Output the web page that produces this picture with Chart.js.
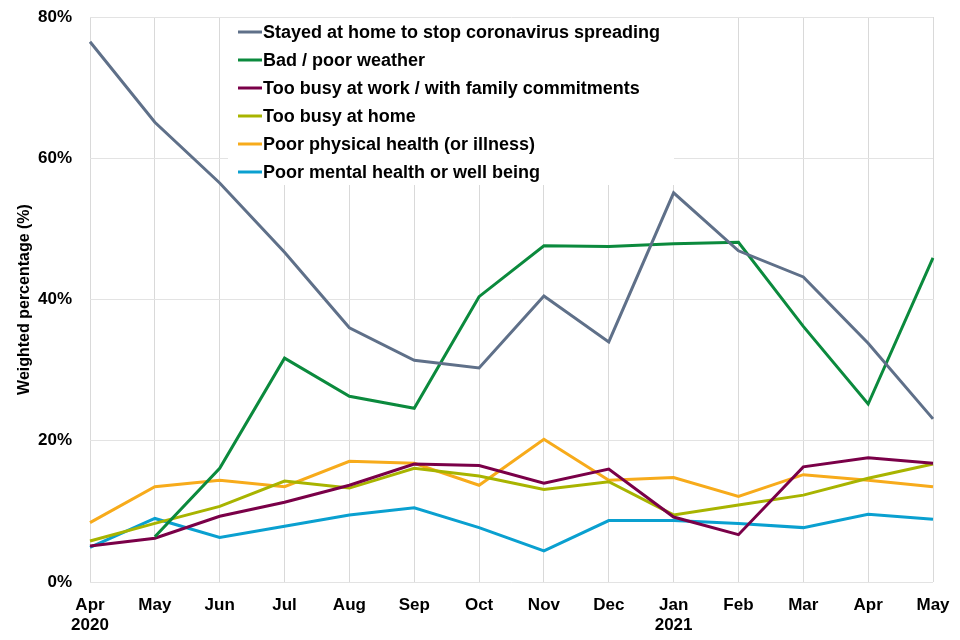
<!DOCTYPE html>
<html>
<head>
<meta charset="utf-8">
<script src="https://cdn.jsdelivr.net/npm/chart.js@4"></script>
<style>
  html, body { margin: 0; padding: 0; background: #fff; }
  #wrap { width: 960px; height: 640px; }
</style>
</head>
<body>
<div id="wrap"><canvas id="chart" width="960" height="640"></canvas></div>
<script>
/* ── Data ─────────────────────────────────────────── */
const months = [
  ['Apr', '2020'], 'May', 'Jun', 'Jul', 'Aug', 'Sep', 'Oct', 'Nov', 'Dec',
  ['Jan', '2021'], 'Feb', 'Mar', 'Apr', 'May'
];
const yTicks = [0, 20, 40, 60, 80];

const stayedHome   = [76.5, 65.1, 56.5, 46.7, 36.0, 31.4, 30.3, 40.5, 34.0, 55.1, 46.9, 43.2, 33.8, 23.1];
const badWeather   = [null, 6.4, 16.1, 31.7, 26.3, 24.6, 40.4, 47.6, 47.5, 47.9, 48.1, 36.2, 25.2, 45.9];
const busyWork     = [5.1, 6.2, 9.3, 11.3, 13.7, 16.7, 16.5, 14.0, 16.0, 9.2, 6.7, 16.3, 17.6, 16.8];
const busyHome     = [5.8, 8.3, 10.7, 14.3, 13.3, 16.1, 15.0, 13.1, 14.2, 9.5, 10.9, 12.3, 14.7, 16.7];
const physHealth   = [8.4, 13.5, 14.4, 13.5, 17.1, 16.8, 13.7, 20.2, 14.4, 14.8, 12.1, 15.2, 14.4, 13.5];
const mentalHealth = [4.9, 9.0, 6.3, 7.9, 9.5, 10.5, 7.7, 4.4, 8.7, 8.7, 8.3, 7.7, 9.6, 8.9];

const FONT = "'Liberation Sans', Arial, sans-serif";

function line(label, data, color) {
  return {
    label: label,
    data: data,
    borderColor: color,
    backgroundColor: color,
    borderWidth: 3,
    pointRadius: 0,
    tension: 0,
    spanGaps: false
  };
}

// Legend box drawn inside the plot, under the lines
const boxLegend = {
  id: 'boxLegend',
  beforeDatasetsDraw(chart) {
    const ctx = chart.ctx;
    const x0 = 228, y0 = 18, w = 446, h = 167;
    ctx.save();
    ctx.fillStyle = '#ffffff';
    ctx.fillRect(x0, y0, w, h);
    ctx.font = 'bold 18px ' + FONT;
    ctx.textBaseline = 'middle';
    chart.data.datasets.forEach((ds, i) => {
      const y = 32 + i * 28;
      ctx.strokeStyle = ds.borderColor;
      ctx.lineWidth = 3;
      ctx.beginPath();
      ctx.moveTo(238, y);
      ctx.lineTo(262, y);
      ctx.stroke();
      ctx.fillStyle = '#000000';
      ctx.fillText(ds.label, 263, y + 1);
    });
    ctx.restore();
  }
};

new Chart(document.getElementById('chart'), {
  type: 'line',
  data: {
    labels: months,
    datasets: [
      line('Stayed at home to stop coronavirus spreading', stayedHome, '#5f7089'),
      line('Bad / poor weather', badWeather, '#0b8a3d'),
      line('Too busy at work / with family commitments', busyWork, '#7a0048'),
      line('Too busy at home', busyHome, '#a8b400'),
      line('Poor physical health (or illness)', physHealth, '#f7ab1b'),
      line('Poor mental health or well being', mentalHealth, '#0aa0d0')
    ]
  },
  options: {
    responsive: false,
    animation: false,
    layout: { padding: { top: 17, right: 27, left: 0, bottom: 0 } },
    plugins: {
      legend: { display: false },
      tooltip: { enabled: false }
    },
    scales: {
      x: {
        offset: false,
        grid: { color: '#d9d9d9', lineWidth: 1, drawTicks: false },
        border: { display: false },
        ticks: {
          color: '#000',
          font: { family: FONT, size: 17, weight: 'bold' },
          padding: 13,
          maxRotation: 0,
          autoSkip: false
        },
        afterFit(scale) {
          scale.height = 58;
          scale.paddingLeft = 0;
          scale.paddingRight = 0;
        }
      },
      y: {
        min: 0,
        max: 80,
        afterBuildTicks(scale) { scale.ticks = yTicks.map(v => ({ value: v })); },
        grid: { color: '#e3e3e3', lineWidth: 1, drawTicks: false },
        border: { display: false },
        ticks: {
          color: '#000',
          font: { family: FONT, size: 17, weight: 'bold' },
          padding: 18,
          callback: v => v + '%'
        },
        title: {
          display: true,
          text: 'Weighted percentage (%)',
          color: '#000',
          font: { family: FONT, size: 16, weight: 'bold' },
          padding: { top: 15, bottom: 0 }
        },
        afterFit(scale) {
          scale.width = 90;
          scale.paddingTop = 0;
          scale.paddingBottom = 0;
        }
      }
    }
  },
  plugins: [boxLegend]
});
</script>
</body>
</html>
